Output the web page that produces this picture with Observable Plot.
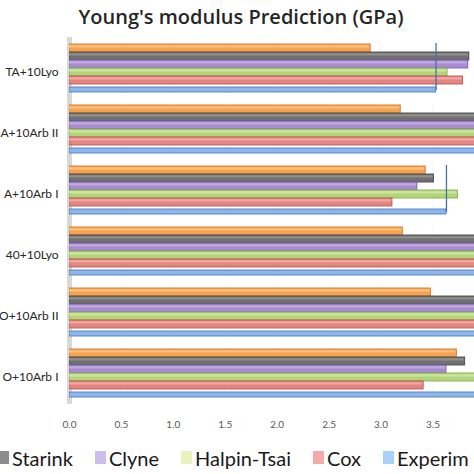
<!DOCTYPE html>
<html>
<head>
<meta charset="utf-8">
<script src="https://cdn.jsdelivr.net/npm/d3@7"></script>
<script src="https://cdn.jsdelivr.net/npm/@observablehq/plot@0.6"></script>
<style>
  body { margin: 0; background: #fff; width: 474px; height: 474px; overflow: hidden; font-family: Lato, "Open Sans", sans-serif; }
  #title { height: 34px; line-height: 34px; text-align: center; font-size: 20px; font-weight: 600; color: #262626; font-family: "Open Sans", sans-serif; padding-left: 8px; }
  #legend { display: flex; white-space: nowrap; margin-left: -2px; height: 33px; align-items: center; font-size: 20px; color: #1a1a1a; }
  #legend .item { display: flex; align-items: center; margin-right: 22px; }
  #legend .sw { width: 11px; height: 13px; margin-right: 3px; }
</style>
</head>
<body>
<div id="title">Young's modulus Prediction (GPa)</div>
<div id="chart"></div>
<div id="legend"></div>
<script>
// groups (labels are cut at the left edge of the picture)
const groups = ["TA+10Lyo", "A+10Arb II", "A+10Arb I", "40+10Lyo", "O+10Arb II", "O+10Arb I"];
// series top to bottom inside a group; first one's legend name is cut off
const series = ["(orange)", "Starink", "Clyne", "Halpin-Tsai", "Cox", "Experimental"];
const orangeVals = [2.90, 3.19, 3.43, 3.21, 3.48, 3.73];
const starinkVals = [3.85, 4.3, 3.51, 4.3, 4.3, 3.81];
const clyneVals = [3.84, 4.3, 3.35, 4.3, 4.3, 3.63];
const halpinVals = [3.64, 4.4, 3.74, 4.4, 4.4, 4.1];
const coxVals = [3.79, 4.3, 3.11, 4.3, 4.3, 3.41];
const expVals = [3.53, 4.1, 3.63, 4.1, 4.1, 4.0];
const legendNames = ["Starink", "Clyne", "Halpin-Tsai", "Cox", "Experim"];

const fills = ["#f7a24f", "#707070", "#a98bd1", "#b3d57a", "#e38581", "#8db7ea"];
const lights = ["#fbbf7f", "#8e8e8e", "#c0a8e2", "#cbe59d", "#f0a6a3", "#b0cff4"];
const strokes = ["#d9782a", "#4a4a4a", "#7c62a6", "#88ad52", "#bc5853", "#4e7fc2"];
const swatch = ["#8c8c8c", "#cdbdec", "#e6f3bd", "#f4aaa8", "#a9d0f6"];

const allVals = [orangeVals, starinkVals, clyneVals, halpinVals, coxVals, expVals];
let rows = [];
groups.forEach((g, i) => {
  series.forEach((s, j) => {
    rows.push({group: g, series: s, value: allVals[j][i]});
  });
});
const expRows = rows.filter(d => d.series === "Experimental");
const modelRows = rows.filter(d => d.series !== "Experimental");

let chart = Plot.plot({
  width: 474,
  height: 407,
  marginLeft: 69,
  marginRight: 0,
  marginTop: 7,
  marginBottom: 40,
  style: {fontFamily: "Lato, sans-serif", background: "white"},
  x: {domain: [0, 3.9], ticks: d3.range(0, 3.6, 0.5), tickFormat: d3.format(".1f"), tickSize: 0, tickPadding: 22, label: null, grid: true},
  y: {domain: series, axis: null, padding: 0.04},
  fy: {domain: groups, axis: null, paddingInner: 0.175, paddingOuter: 0},
  color: {domain: series, range: fills},
  marks: [
    Plot.ruleX([0], {stroke: "#d8d8d8", strokeWidth: 5, insetTop: -6, insetBottom: -6}),
    Plot.barX(modelRows, {x: "value", y: "series", fy: "group", fill: "series", stroke: d => strokes[series.indexOf(d.series)], strokeWidth: 0.9, clip: true}),
    Plot.barX(modelRows, {x: "value", y: "series", fy: "group", fill: d => lights[series.indexOf(d.series)], insetBottom: 4.5, insetTop: 1.2, insetRight: 1, clip: true}),
    // experimental bar drawn thinner, like the flattened 3D bar
    Plot.barX(expRows, {x: "value", y: "series", fy: "group", fill: "#8db7ea", stroke: "#4e7fc2", strokeWidth: 0.9, insetTop: 3, clip: true}),
    Plot.ruleX(expRows, {x: "value", fy: "group", stroke: "#4a6fa8", strokeWidth: 1.3, insetTop: -4, insetBottom: 3, clip: true}),
    Plot.text(groups, {fy: d => d, text: d => d, frameAnchor: "left", textAnchor: "end", dx: -11, dy: 4, fontSize: 12, fill: "#262626"})
  ]
});
d3.select(chart).selectAll("g[aria-label='x-axis tick label'] text, g[aria-label='x-axis'] text").attr("fill", "#595959").attr("font-size", 10);
d3.select(chart).selectAll("g[aria-label='x-grid'] line, g[aria-label='x-axis'] line").attr("stroke-opacity", 0.05);
d3.select('#chart').append(() => chart);

const legend = d3.select('#legend');
legendNames.forEach((n, i) => {
  let it = legend.append('div').attr('class', 'item');
  it.append('div').attr('class', 'sw').style('background', swatch[i]);
  it.append('span').text(n);
});
</script>
</body>
</html>
